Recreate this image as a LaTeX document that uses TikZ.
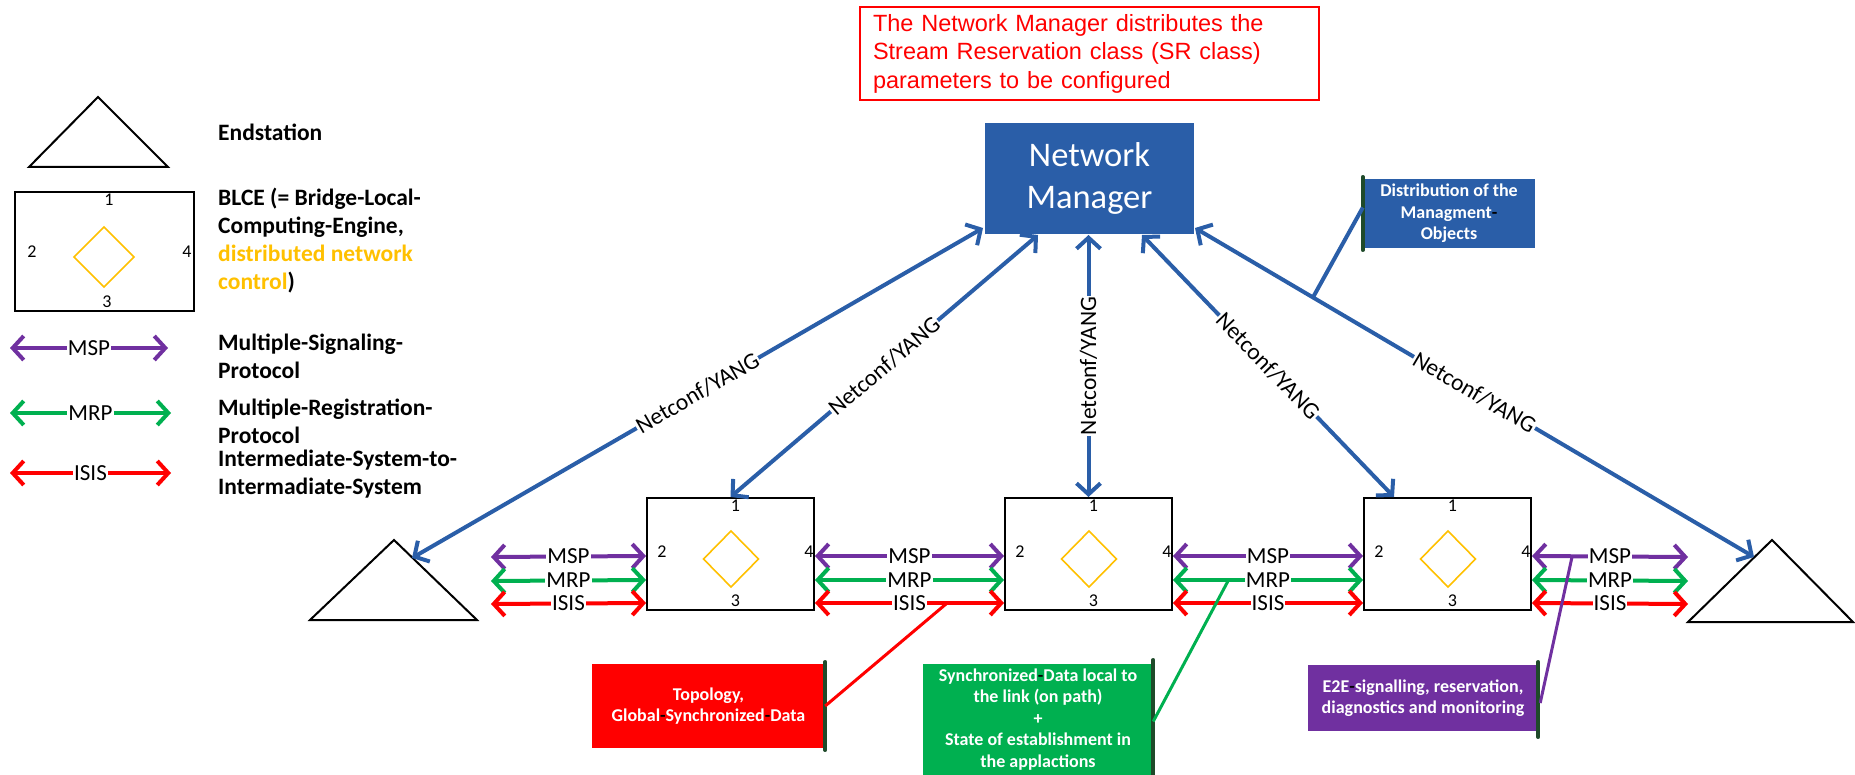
\documentclass[tikz,border=0pt]{standalone}
\usepackage{fontspec}
\setmainfont{Carlito}
\newfontfamily\arialfont{Liberation Sans}
\usetikzlibrary{arrows.meta,calc}
\definecolor{nmblue}{HTML}{2A5EA8}
\definecolor{mspc}{HTML}{7030A0}
\definecolor{mrpc}{HTML}{00B050}
\definecolor{isisc}{HTML}{FF0000}
\definecolor{goldc}{HTML}{FFC000}
\definecolor{barc}{HTML}{1F4A2A}
\tikzset{
  dbl/.style={line width=4pt, arrows={Straight Barb[length=11pt,width=24pt]-Straight Barb[length=11pt,width=24pt]}},
  plab/.style={fill=white, text=black, inner xsep=1pt, inner ysep=0pt, font=\fontsize{23}{23}\selectfont},
  nclab/.style={fill=white, text=black, inner xsep=1pt, inner ysep=0pt, font=\fontsize{23.5}{23.5}\selectfont},
  blce/.style={draw=black, line width=2pt, minimum width=167pt, minimum height=112pt, inner sep=0pt},
  digit/.style={font=\fontsize{18}{18}\selectfont, inner sep=0pt},
  dia/.style={draw=goldc, line width=1.6pt},
  endst/.style={draw=black, line width=2pt, line join=miter},
  legtxt/.style={anchor=west, align=left, inner sep=0pt, font=\bfseries\fontsize{23.5}{28}\selectfont},
  callout/.style={text=white, align=center, inner sep=0pt, font=\bfseries\fontsize{18}{21.5}\selectfont},
  barline/.style={draw=barc, line width=3.5pt, line cap=round},
  link/.style={line width=3pt},
}
\begin{document}
\begin{tikzpicture}[x=1pt,y=-1pt]
\useasboundingbox (0,0) rectangle (1855,775);

% ---------- legend ----------
\draw[endst] (98,97) -- (168,167) -- (29,167) -- cycle;
\node[legtxt] (lEnd) at (218,132) {Endstation};

\node[draw=black, line width=2pt, minimum width=179pt, minimum height=119pt, inner sep=0pt] (lb) at (104.5,251.5) {};
\node[digit] (lb1) at (109,200) {1};
\node[digit] (lb2) at (32,252) {2};
\node[digit] (lb4) at (187,252) {4};
\node[digit] (lb3) at (107,302) {3};
\draw[dia] (104,227) -- (134,257) -- (104,287) -- (74,257) -- cycle;
\node[legtxt] (lBlce) at (218,240.5) {BLCE (= Bridge-Local-\\Computing-Engine,\\{\color{goldc}distributed network}\\{\color{goldc}control})};

\coordinate (la1) at (10,348); \coordinate (la2) at (168,348);
\coordinate (lb1a) at (10,413); \coordinate (lb2a) at (171,413);
\coordinate (lc1) at (10,473); \coordinate (lc2) at (171,473);
\draw[dbl,mspc] (la1) -- (la2) node[plab,midway] {MSP};
\draw[dbl,mrpc] (lb1a) -- (lb2a) node[plab,midway] {MRP};
\draw[dbl,isisc] (lc1) -- (lc2) node[plab,midway] {ISIS};
\node[legtxt] (lMsp) at (218,356.5) {Multiple-Signaling-\\Protocol};
\node[legtxt] (lMrp) at (218,421) {Multiple-Registration-\\Protocol};
\node[legtxt] (lIsis) at (218,474) {Intermediate-System-to-\\Intermadiate-System};

% ---------- top note ----------
\node[draw=isisc, line width=2pt, text=isisc, text width=433pt, inner xsep=13pt, inner ysep=0pt,
      minimum height=93pt, align=left, font=\arialfont\fontsize{23.5}{28.5}\selectfont] (note) at (1089.5,53.5)
  {The Network Manager distributes the\\Stream Reservation class (SR class)\\parameters to be configured};

% ---------- network manager ----------
\node[fill=nmblue, text=white, minimum width=209pt, minimum height=111pt, inner sep=0pt, align=center,
      font=\fontsize{34.5}{42}\selectfont] (nm) at (1089.5,178.5) {Network\\Manager};

% ---------- bridges ----------
\node[blce] (b1) at (730.5,554) {};
\node[blce] (b2) at (1088.5,554) {};
\node[blce] (b3) at (1447.5,554) {};
\foreach \b in {b1,b2,b3}{
  \node[digit] (\b-1) at ($(\b.north)+(5,9)$) {1};
  \node[digit] (\b-2) at ($(\b.north west)+(16,55)$) {2};
  \node[digit] (\b-4) at ($(\b.north east)+(-6,55)$) {4};
  \node[digit] (\b-3) at ($(\b.south)+(5,-10)$) {3};
  \draw[dia] ($(\b.center)+(0.5,-23)$) -- ($(\b.center)+(28,5)$) -- ($(\b.center)+(0.5,33)$) -- ($(\b.center)+(-27,5)$) -- cycle;
}

% ---------- end stations ----------
\draw[endst] (394,540) -- (477,620) -- (310,620) -- cycle;
\draw[endst] (1772,540) -- (1853,622) -- (1688,622) -- cycle;
\coordinate (es1) at (412,558);
\coordinate (es2) at (1754,557);

% ---------- protocol rows ----------
\coordinate (lend) at (491,498);
\coordinate (rend) at (1688,498);
\foreach \dy/\c/\t in {59/mspc/MSP,83/mrpc/MRP,106/isisc/ISIS}{
  \draw[dbl,\c] ($(lend)+(0,\dy)$) -- ($(b1.north west)+(0,\dy)$) node[plab,midway] {\t};
  \draw[dbl,\c] ($(b1.north east)+(0,\dy)$) -- ($(b2.north west)+(0,\dy)$) node[plab,midway] {\t};
  \draw[dbl,\c] ($(b2.north east)+(0,\dy)$) -- ($(b3.north west)+(0,\dy)$) node[plab,midway] {\t};
  \draw[dbl,\c] ($(b3.north east)+(0,\dy)$) -- ($(rend)+(0,\dy)$) node[plab,midway] {\t};
}

% ---------- Netconf/YANG links ----------
\coordinate (n1) at (983,228);
\coordinate (n2) at (1038,235);
\coordinate (n3) at (1088.5,235);
\coordinate (n4) at (1142,235);
\coordinate (n5) at (1195,228);
\draw[dbl,nmblue] (n1) -- (es1) node[nclab,sloped,pos=0.5] {Netconf/YANG};
\draw[dbl,nmblue] (n2) -- (b1.north) node[nclab,sloped,pos=0.5] {Netconf/YANG};
\draw[dbl,nmblue] (b2.north) -- (n3) node[nclab,rotate=90,pos=0.5] {Netconf/YANG};
\draw[dbl,nmblue] (n4) -- ($(b3.north west)+(31,0)$) node[nclab,sloped,pos=0.5] {Netconf/YANG};
\draw[dbl,nmblue] (n5) -- (es2) node[nclab,sloped,pos=0.5] {Netconf/YANG} coordinate[pos=0.211] (dj);

% ---------- distribution callout ----------
\node[callout, fill=nmblue, minimum width=172pt, minimum height=69pt] (dc) at (1449,213.5)
  {Distribution of the\\Managment{\color{black}-}\\Objects};
\draw[barline] ($(dc.north west)+(0,-2)$) -- ($(dc.south west)+(0,2)$);
\draw[link, nmblue, line width=4pt] ($(dc.west)+(0,-6)$) -- (dj);

% ---------- bottom callouts ----------
\coordinate (risis) at (946,604);
\coordinate (gmrp) at (1228,581);
\coordinate (pmsp) at (1572,557);

\node[callout, fill=isisc, minimum width=233pt, minimum height=84pt] (rc) at (708.5,706)
  {Topology,\\Global{\color{black}-}Synchronized{\color{black}-}Data};
\draw[barline] ($(rc.north east)+(0,-2)$) -- ($(rc.south east)+(0,2)$);
\draw[link, isisc] (rc.east) -- (risis);

\node[callout, fill=mrpc, minimum width=230pt, minimum height=111pt] (gc) at (1038,719.5)
  {Synchronized{\color{black}-}Data local to\\the link (on path)\\+\\State of establishment in\\the applactions};
\draw[barline] ($(gc.north east)+(0,-4)$) -- (gc.south east);
\draw[link, mrpc] ($(gc.east)+(0,2)$) -- (gmrp);

\node[callout, fill=mspc, minimum width=230pt, minimum height=66pt] (pc) at (1423,698)
  {E2E{\color{black}-}signalling, reservation,\\diagnostics and monitoring};
\draw[barline] ($(pc.north east)+(0,-3)$) -- ($(pc.south east)+(0,6)$);
\draw[link, mspc] ($(pc.east)+(2,5)$) -- (pmsp);
\end{tikzpicture}
\end{document}
